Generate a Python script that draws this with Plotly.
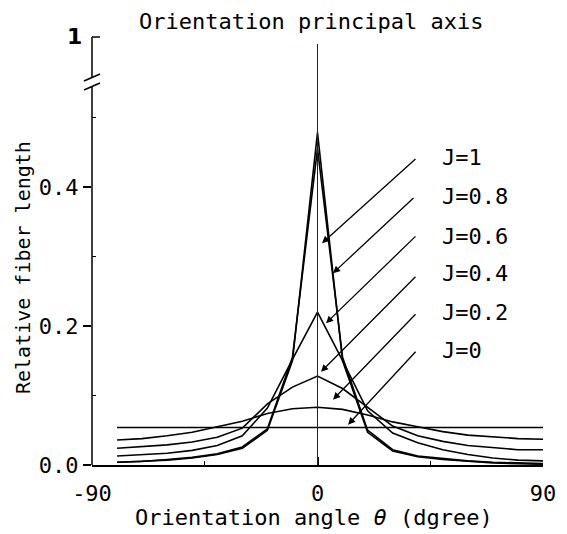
import plotly.graph_objects as go

# ---------------- data ----------------
angles = [-80, -70, -60, -50, -40, -30, -20, -10, 0, 10, 20, 30, 40, 50, 60, 70, 80, 90]

j_labels = ["J=1", "J=0.8", "J=0.6", "J=0.4", "J=0.2", "J=0"]

j1_0 = [0.004, 0.005, 0.007, 0.010, 0.015, 0.024, 0.050, 0.150, 0.478,
        0.150, 0.047, 0.020, 0.012, 0.008, 0.005, 0.003, 0.002, 0.001]
j0_8 = [0.004, 0.005, 0.008, 0.011, 0.016, 0.026, 0.052, 0.155, 0.455,
        0.155, 0.050, 0.022, 0.013, 0.009, 0.006, 0.004, 0.003, 0.002]
j0_6 = [0.013, 0.015, 0.017, 0.021, 0.028, 0.042, 0.082, 0.152, 0.220,
        0.150, 0.078, 0.046, 0.032, 0.022, 0.015, 0.010, 0.007, 0.006]
j0_4 = [0.024, 0.026, 0.029, 0.033, 0.040, 0.053, 0.088, 0.112, 0.128,
        0.110, 0.083, 0.056, 0.042, 0.034, 0.028, 0.025, 0.022, 0.022]
j0_2 = [0.036, 0.038, 0.042, 0.047, 0.055, 0.063, 0.074, 0.081, 0.083,
        0.080, 0.072, 0.062, 0.055, 0.048, 0.043, 0.040, 0.038, 0.037]
j0_0 = [0.054] * len(angles)

series = [j1_0, j0_8, j0_6, j0_4, j0_2, j0_0]

x_ticks = [-90, 0, 90]
y_ticks = [0.0, 0.2, 0.4]
y_tick_text = ["0.0", "0.2", "0.4"]
top_value_label = "1"

# ---------------- layout helpers ----------------
OFF = 8  # page body margin
W, H = 567 - OFF, 534 - OFF
L, R, T, B = 92 - OFF, 24, 34 - OFF, 69
PW, PH = W - L - R, H - T - B
YMAX = 0.62
FONT = "DejaVu Sans Mono"


def py2paper(py):
    # py in reference-window pixels
    return (H - B - (py - OFF)) / PH


def px2paper(px):
    return (px - OFF - L) / PW


fig = go.Figure()
for vals, name in zip(series, j_labels):
    fig.add_trace(go.Scatter(x=angles, y=vals, mode="lines", name=name,
                             line=dict(color="black", width=1.6),
                             showlegend=False, hoverinfo="skip"))

# label positions (annotation placement)
label_x = 49
label_y = [0.442, 0.386, 0.328, 0.276, 0.219, 0.164]
arrow_tail = [(39.7, 0.442), (38.9, 0.386), (39.7, 0.331),
              (39.7, 0.273), (39.7, 0.219), (39.7, 0.165)]
arrow_head = [(1.8, 0.319), (6.2, 0.276), (3.4, 0.204),
              (1.4, 0.134), (6.2, 0.094), (12.2, 0.058)]

ann = []
for txt, ly in zip(j_labels, label_y):
    ann.append(dict(x=label_x, y=ly, xref="x", yref="y", text=txt,
                    showarrow=False, xanchor="left", yanchor="middle",
                    font=dict(family=FONT, size=22, color="black")))
for (tx, ty), (hx, hy) in zip(arrow_tail, arrow_head):
    ann.append(dict(x=hx, y=hy, xref="x", yref="y", ax=tx, ay=ty,
                    axref="x", ayref="y", text="", showarrow=True,
                    arrowhead=2, arrowsize=1.1, arrowwidth=1.3,
                    arrowcolor="black", standoff=0))

# title and axis titles
ann.append(dict(x=px2paper(311), y=py2paper(21), xref="paper", yref="paper",
                text="Orientation principal axis", showarrow=False,
                xanchor="center", yanchor="middle",
                font=dict(family=FONT, size=22, color="black")))
ann.append(dict(x=px2paper(314), y=py2paper(517), xref="paper", yref="paper",
                text="Orientation angle <i>θ</i> (dgree)", showarrow=False,
                xanchor="center", yanchor="middle",
                font=dict(family=FONT, size=22, color="black")))
ann.append(dict(x=px2paper(23), y=py2paper(268), xref="paper", yref="paper",
                text="Relative fiber length", showarrow=False, textangle=-90,
                xanchor="center", yanchor="middle",
                font=dict(family=FONT, size=20, color="black")))
# "1" at the top of broken axis
ann.append(dict(x=px2paper(74), y=py2paper(37), xref="paper", yref="paper",
                text="<b>" + top_value_label + "</b>", showarrow=False,
                xanchor="center", yanchor="middle",
                font=dict(family="DejaVu Sans", size=22, color="black")))

shapes = []
# y axis with break
shapes.append(dict(type="line", xref="paper", yref="paper", x0=0, x1=0,
                   y0=0, y1=py2paper(86), line=dict(color="black", width=1.5)))
shapes.append(dict(type="line", xref="paper", yref="paper", x0=0, x1=0,
                   y0=py2paper(78), y1=py2paper(37), line=dict(color="black", width=1.5)))
shapes.append(dict(type="line", xref="paper", yref="paper", x0=0, x1=px2paper(100),
                   y0=py2paper(37), y1=py2paper(37), line=dict(color="black", width=1.5)))
# break slashes
shapes.append(dict(type="line", xref="paper", yref="paper",
                   x0=px2paper(84), x1=px2paper(100), y0=py2paper(81), y1=py2paper(74),
                   line=dict(color="black", width=1.5)))
shapes.append(dict(type="line", xref="paper", yref="paper",
                   x0=px2paper(84), x1=px2paper(100), y0=py2paper(90), y1=py2paper(83),
                   line=dict(color="black", width=1.5)))
# orientation principal axis line
shapes.append(dict(type="line", xref="x", yref="paper", x0=0, x1=0, y0=0,
                   y1=py2paper(44), line=dict(color="#222", width=1)))

fig.update_layout(
    width=W, height=H,
    margin=dict(l=L, r=R, t=T, b=B, pad=0),
    paper_bgcolor="white", plot_bgcolor="white",
    annotations=ann, shapes=shapes,
    xaxis=dict(range=[-90, 90], tickvals=x_ticks, ticktext=[str(v) for v in x_ticks],
               ticks="inside", ticklen=8, tickwidth=1.5, tickcolor="black",
               showline=True, linecolor="black", linewidth=1.5, mirror=False,
               showgrid=False, zeroline=False, ticklabelstandoff=8,
               minor=dict(tickvals=[-45, 45], ticks="inside", ticklen=4,
                          tickwidth=1.2, tickcolor="black", showgrid=False),
               tickfont=dict(family=FONT, size=22, color="black")),
    yaxis=dict(range=[0, YMAX], tickvals=y_ticks, ticktext=y_tick_text,
               ticks="outside", ticklen=8, tickwidth=1.5, tickcolor="black",
               showline=False, showgrid=False, zeroline=False,
               minor=dict(tickvals=[0.1, 0.3, 0.5], ticks="inside", ticklen=4,
                          tickwidth=1.2, tickcolor="black", showgrid=False),
               tickfont=dict(family=FONT, size=22, color="black")),
)

fig.write_html("out.html")
